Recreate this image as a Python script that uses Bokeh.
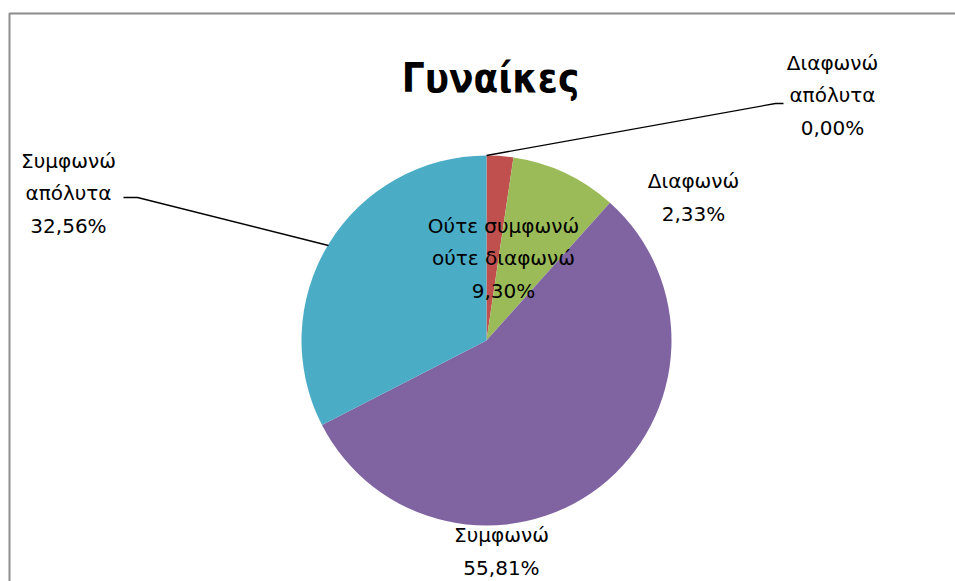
import math
from bokeh.plotting import figure
from bokeh.models import Range1d
from bokeh.core.properties import value
from bokeh.embed import file_html
from bokeh.resources import INLINE

# ---- data ----
title = "Γυναίκες"
categories = ["Διαφωνώ απόλυτα", "Διαφωνώ", "Ούτε συμφωνώ ούτε διαφωνώ", "Συμφωνώ", "Συμφωνώ απόλυτα"]
label_lines = ["Διαφωνώ\nαπόλυτα", "Διαφωνώ", "Ούτε συμφωνώ\nούτε διαφωνώ", "Συμφωνώ", "Συμφωνώ\nαπόλυτα"]
counts = [0, 1, 4, 24, 14]
colors = ["#4F81BD", "#C0504D", "#9BBB59", "#8064A2", "#4BACC6"]

W, H = 955, 581
def Y(y):  # image y -> data y
    return H - y

p = figure(width=W, height=H, output_backend="svg", toolbar_location=None,
           x_range=Range1d(0, W), y_range=Range1d(0, H), min_border=0)
p.axis.visible = False
p.grid.visible = False
p.outline_line_color = None
p.background_fill_color = "white"

# chart border
p.line([9, 9, 955], [Y(581), Y(13), Y(13)], line_color="#8c8c8c", line_width=2)

cx, cy, r = 486, Y(340), 185
total = sum(counts)
cum = 0.0
for c, col in zip(counts, colors):
    frac = c / total
    if frac > 0:
        sa = math.pi / 2 - 2 * math.pi * cum
        ea = math.pi / 2 - 2 * math.pi * (cum + frac)
        p.wedge(x=cx, y=cy, radius=r, start_angle=sa, end_angle=ea, direction="clock",
                fill_color=col, line_color=None)
    cum += frac

# labels
label_pos = [(832, 95), (693, 197), (503, 258), (501, 551), (68, 193)]
for txt, c, (lx, ly) in zip(label_lines, counts, label_pos):
    pct = f"{100 * c / total:.2f}".replace(".", ",") + "%"
    p.text(x=[lx], y=[Y(ly)], text=[txt + "\n" + pct], text_align="center",
           text_baseline="middle", text_font=value("DejaVu Sans"),
           text_font_size="20px", text_color="#000000", text_line_height=1.37)

# leader lines
p.line([486, 775, 783], [Y(155), Y(103), Y(103)], line_color="#000000", line_width=1.3)
p.line([123, 137, 328], [Y(197), Y(197), Y(245)], line_color="#000000", line_width=1.3)

# title
p.text(x=[490], y=[Y(77)], text=[title], text_align="center", text_baseline="alphabetic",
       text_font=value("DejaVu Sans Condensed"), text_font_style="bold",
       text_font_size="40px", text_color="#000000")

open("out.html", "w").write(file_html(p, INLINE))
